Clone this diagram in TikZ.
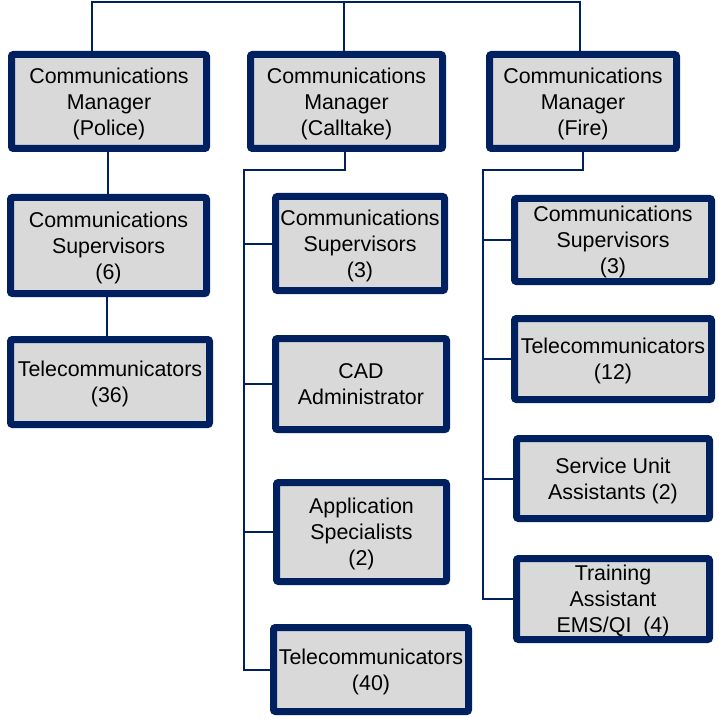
\documentclass[tikz,border=0pt]{standalone}
\usepackage{fontspec}
\setmainfont{Liberation Sans}
\usepackage{tikz}
\usetikzlibrary{backgrounds,shadows}
\definecolor{navy}{HTML}{002060}
\definecolor{boxgray}{HTML}{D9D9D9}
\tikzstyle{role}=[rectangle,line width=7pt,draw=navy,fill=boxgray,
rounded corners=2pt,align=center,inner sep=0pt,text depth=0pt,
font=\fontsize{21.4}{26}\selectfont,
drop shadow={shadow xshift=3pt,shadow yshift=-3pt,fill=black!15,opacity=1}]
\tikzstyle{link}=[line width=2pt,draw=navy]

\begin{document}
\begin{tikzpicture}[x=1pt,y=-1pt]
    \useasboundingbox (0,0) rectangle (719,719);
    % First column: Police
    \node (pm) [role,minimum width=195pt,minimum height=94pt] at (109,101.5)
      {Communications\\Manager\\(Police)};
    \node (ps) [role,minimum width=196pt,minimum height=96pt] at (108.5,245.5)
      {Communications\\Supervisors\\(6)};
    \node (pt) [role,minimum width=199pt,minimum height=85pt] at (110,382)
      {Telecommunicators\\(36)};
    % Second column: Calltake
    \node (cm) [role,minimum width=192pt,minimum height=94pt] at (346.5,101.5)
      {Communications\\Manager\\(Calltake)};
    \node (cs) [role,minimum width=169pt,minimum height=94pt] at (360,243.5)
      {Communications\\Supervisors\\(3)};
    \node (ca) [role,minimum width=171pt,minimum height=91pt] at (361,384)
      {CAD\\Administrator};
    \node (ap) [role,minimum width=170pt,minimum height=99pt] at (361.5,532)
      {Application\\Specialists\\(2)};
    \node (ct) [role,minimum width=195pt,minimum height=84pt] at (371,669.5)
      {Telecommunicators\\(40)};
    % Third column: Fire
    \node (fm) [role,minimum width=187pt,minimum height=94pt] at (583,101.5)
      {Communications\\Manager\\(Fire)};
    \node (fs) [role,minimum width=197pt,minimum height=83pt] at (613,240)
      {Communications\\Supervisors\\(3)};
    \node (ft) [role,minimum width=197pt,minimum height=81pt] at (613,359)
      {Telecommunicators\\(12)};
    \node (fu) [role,minimum width=193pt,minimum height=80pt] at (613,478.5)
      {Service Unit\\Assistants (2)};
    \node (fa) [role,minimum width=193pt,minimum height=81pt] at (613,599)
      {Training\\Assistant\\EMS/QI~~(4)};
    % The boxes are now connected behind them:
    \begin{scope}[on background layer]
      \coordinate (bus) at (344,2);
      \coordinate (cjoin) at (244,170);
      \coordinate (fjoin) at (483,170);
      \draw[link] ([xshift=-17pt]pm.north) |- (bus) -| ([xshift=-3pt]fm.north);
      \draw[link] (bus) -- (bus |- cm.north);
      \draw[link] ([xshift=-1pt]pm.south) -- ([xshift=-1pt]pm.south |- ps.north);
      \draw[link] ([xshift=-2pt]ps.south) -- ([xshift=-2pt]ps.south |- pt.north);
      \draw[link] ([xshift=-2pt]cm.south) |- (cjoin) |- (ct.west);
      \foreach \n in {cs,ca,ap}
        \draw[link] (cjoin |- \n.west) -- (\n.west);
      \draw[link] (fm.south) |- (fjoin) |- (fa.west);
      \foreach \n in {fs,ft,fu}
        \draw[link] (fjoin |- \n.west) -- (\n.west);
    \end{scope}
\end{tikzpicture}
\end{document}
